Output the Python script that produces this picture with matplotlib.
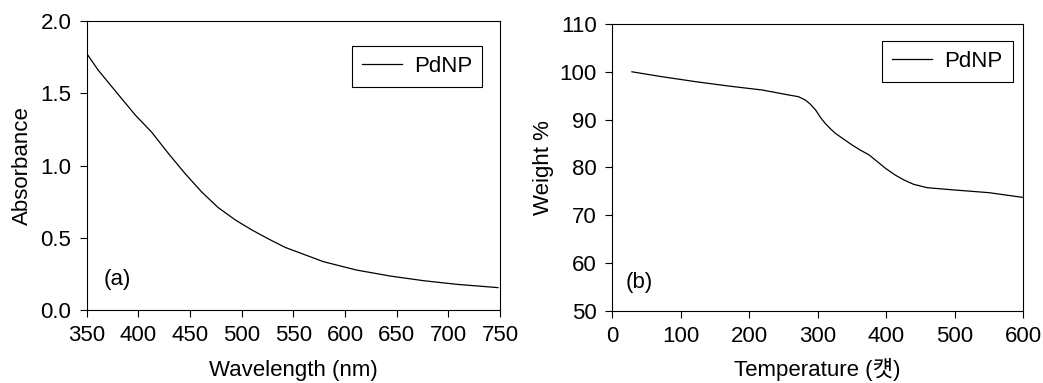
import matplotlib.pyplot as plt

plt.rcParams['font.family'] = ['Liberation Sans', 'Noto Sans CJK KR']
plt.rcParams['font.size'] = 16

# UV-vis spectrum (a)
wavelength = [351, 361, 381, 397, 413, 429, 445, 461, 477, 494, 510, 526,
              542, 579, 611, 644, 676, 708, 748]
absorbance = [1.767, 1.663, 1.489, 1.351, 1.231, 1.085, 0.947, 0.820, 0.711,
              0.623, 0.554, 0.492, 0.434, 0.335, 0.277, 0.235, 0.203, 0.178, 0.155]

# TGA curve (b)
temperature = [29, 73, 122, 170, 219, 258, 272, 282, 289, 297, 304, 311, 319,
               326, 340, 350, 362, 375, 387, 399, 413, 426, 440, 460, 500, 550, 600]
weight = [100.0, 98.97, 97.93, 97.02, 96.19, 95.14, 94.79, 94.09, 93.26, 92.0,
          90.47, 89.2, 88.02, 87.1, 85.7, 84.7, 83.63, 82.6, 81.2, 79.8, 78.4,
          77.35, 76.45, 75.74, 75.26, 74.7, 73.7]

fig = plt.figure(figsize=(10.43, 3.83), dpi=100)
ax1 = fig.add_axes([0.0831, 0.1906, 0.3963, 0.7538])
ax2 = fig.add_axes([0.5868, 0.1888, 0.3943, 0.7485])

for ax in (ax1, ax2):
    for s in ax.spines.values():
        s.set_linewidth(0.8)
    ax.tick_params(direction='out', length=5, width=0.8, pad=6,
                   top=False, right=False)

ax1.plot(wavelength, absorbance, color='black', linewidth=0.9, label='PdNP')
ax1.set_xlim(350, 750)
ax1.set_ylim(0, 2.0)
ax1.set_xticks(range(350, 751, 50))
ax1.set_yticks([0.0, 0.5, 1.0, 1.5, 2.0])
ax1.set_yticklabels(['0.0', '0.5', '1.0', '1.5', '2.0'])
ax1.set_xlabel('Wavelength (nm)', labelpad=10)
ax1.set_ylabel('Absorbance', labelpad=5)
ax1.text(0.042, 0.104, '(a)', transform=ax1.transAxes, va='center')
ax1.legend(loc='upper right', bbox_to_anchor=(0.957, 0.9155), borderaxespad=0,
           fancybox=False, edgecolor='black', framealpha=1, handlelength=1.8,
           handletextpad=0.55, borderpad=0.45).get_frame().set_linewidth(0.8)

ax2.plot(temperature, weight, color='black', linewidth=0.9, label='PdNP')
ax2.set_xlim(0, 600)
ax2.set_ylim(50, 110)
ax2.set_xticks(range(0, 601, 100))
ax2.set_yticks(range(50, 111, 10))
ax2.set_xlabel('Temperature (\ucedb)', labelpad=8)
ax2.set_ylabel('Weight %', labelpad=4)
ax2.text(0.032, 0.098, '(b)', transform=ax2.transAxes, va='center')
ax2.legend(loc='upper right', bbox_to_anchor=(0.974, 0.942), borderaxespad=0,
           fancybox=False, edgecolor='black', framealpha=1, handlelength=1.8,
           handletextpad=0.55, borderpad=0.45).get_frame().set_linewidth(0.8)

fig.savefig('out.png', dpi=100)
